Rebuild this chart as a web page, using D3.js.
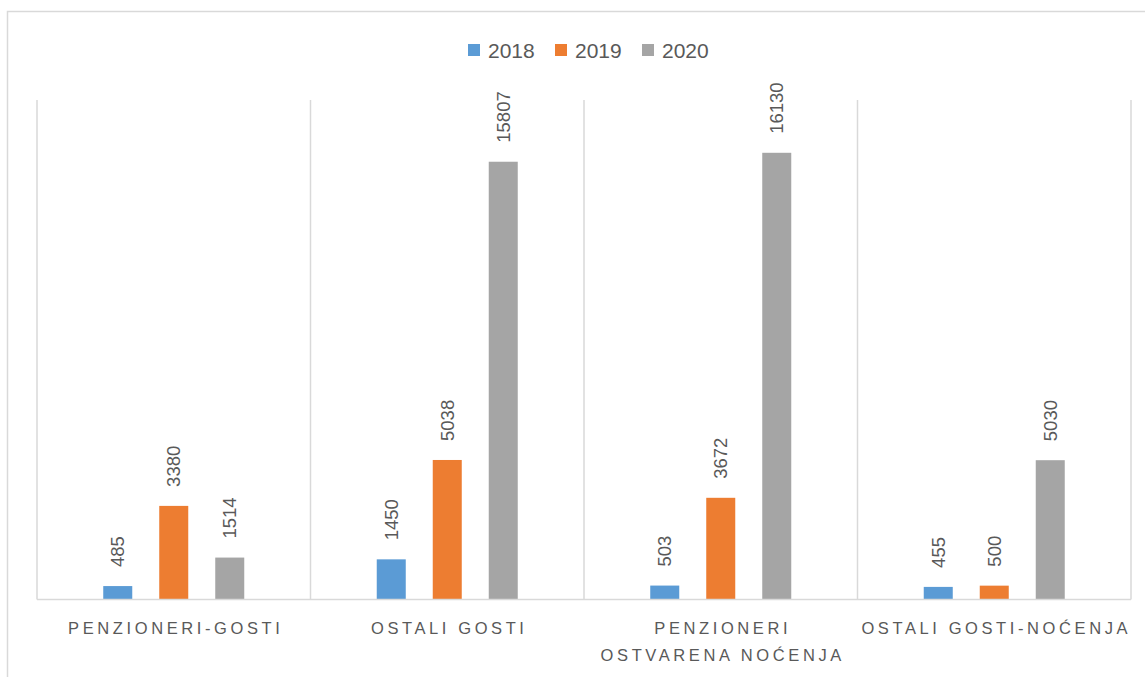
<!DOCTYPE html>
<html>
<head>
<meta charset="utf-8">
<script src="https://cdn.jsdelivr.net/npm/d3@7"></script>
<style>
  html, body { margin: 0; padding: 0; background: #ffffff; }
  svg { display: block; }
</style>
</head>
<body>
<svg id="chart" width="1145" height="677"></svg>
<script>
// data
const categories = ["PENZIONERI-GOSTI", "OSTALI GOSTI", "PENZIONERI\nOSTVARENA NOĆENJA", "OSTALI GOSTI-NOĆENJA"];
const seriesNames = ["2018", "2019", "2020"];
const values2018 = [485, 1450, 503, 455];
const values2019 = [3380, 5038, 3672, 500];
const values2020 = [1514, 15807, 16130, 5030];
const seriesColors = ["#5B9BD5", "#ED7D31", "#A5A5A5"];

const seriesValues = [values2018, values2019, values2020];
const data = categories.map((c, i) => ({
  category: c,
  values: seriesNames.map((s, j) => ({ series: s, value: seriesValues[j][i] }))
}));

const width = 1145, height = 677;
const plot = { left: 37, right: 1131, top: 101, bottom: 599.5 };
const textColor = "#595959";
const gridColor = "#d9d9d9";
const fontFamily = "'Liberation Sans', Arial, sans-serif";

const svg = d3.select("#chart");

svg.append("rect")
  .attr("width", width).attr("height", height)
  .attr("fill", "#ffffff");

// chart border
svg.append("rect")
  .attr("x", 7.5).attr("y", 11.5)
  .attr("width", 1200).attr("height", 700)
  .attr("fill", "none")
  .attr("stroke", gridColor)
  .attr("stroke-width", 1.5);

// scales
const x0 = d3.scaleBand()
  .domain(categories)
  .range([plot.left, plot.right])
  .paddingInner(0).paddingOuter(0);

const x1 = d3.scaleBand()
  .domain(seriesNames)
  .range([0, x0.bandwidth()])
  .paddingInner(0.482)
  .paddingOuter(1.183);

const y = d3.scaleLinear()
  .domain([0, 18000])
  .range([plot.bottom, plot.top]);

const color = d3.scaleOrdinal().domain(seriesNames).range(seriesColors);

// category separators (vertical gridlines)
const gridLayer = svg.append("g").attr("id", "grid");
const boundaries = categories.map(c => x0(c)).concat([plot.right]);
gridLayer.selectAll("line")
  .data(boundaries)
  .join("line")
  .attr("x1", d => d).attr("x2", d => d)
  .attr("y1", plot.top - 1).attr("y2", plot.bottom)
  .attr("stroke", gridColor)
  .attr("stroke-width", 1.5);

// bars
const vizLayer = svg.append("g").attr("id", "viz");
const groups = vizLayer.selectAll("g")
  .data(data)
  .join("g")
  .attr("transform", d => `translate(${x0(d.category)},0)`);

groups.selectAll("rect")
  .data(d => d.values)
  .join("rect")
  .attr("x", d => x1(d.series))
  .attr("y", d => y(d.value))
  .attr("width", x1.bandwidth())
  .attr("height", d => y(0) - y(d.value))
  .attr("fill", d => color(d.series));

// data labels, rotated
groups.selectAll("text")
  .data(d => d.values)
  .join("text")
  .attr("transform", d => `translate(${x1(d.series) + x1.bandwidth() / 2},${y(d.value) - 19}) rotate(-90)`)
  .attr("dy", "0.36em")
  .attr("text-anchor", "start")
  .attr("font-family", fontFamily)
  .attr("font-size", 18.5)
  .attr("fill", textColor)
  .text(d => d.value);

// baseline
svg.append("line")
  .attr("x1", plot.left).attr("x2", plot.right)
  .attr("y1", plot.bottom).attr("y2", plot.bottom)
  .attr("stroke", gridColor)
  .attr("stroke-width", 1.5);

// category labels
const labelLayer = svg.append("g").attr("id", "labels");
labelLayer.selectAll("text")
  .data(categories)
  .join("text")
  .attr("x", d => x0(d) + x0.bandwidth() / 2 + 2)
  .attr("y", 634)
  .attr("text-anchor", "middle")
  .attr("font-family", fontFamily)
  .attr("font-size", 16.5)
  .attr("letter-spacing", "3.6px")
  .attr("fill", textColor)
  .each(function (d) {
    const t = d3.select(this);
    d.split("\n").forEach((line, i) => {
      t.append("tspan")
        .attr("x", x0(d) + x0.bandwidth() / 2 + 2)
        .attr("dy", i === 0 ? 0 : 27)
        .text(line);
    });
  });

// legend
const legendLayer = svg.append("g").attr("id", "legend")
  .attr("transform", "translate(468,44)");
const legendItems = legendLayer.selectAll("g")
  .data(seriesNames)
  .join("g")
  .attr("transform", (d, i) => `translate(${i * 87},0)`);
legendItems.append("rect")
  .attr("width", 12).attr("height", 12)
  .attr("fill", d => color(d));
legendItems.append("text")
  .attr("x", 20).attr("y", 13.5)
  .attr("font-family", fontFamily)
  .attr("font-size", 21)
  .attr("fill", textColor)
  .text(d => d);
</script>
</body>
</html>
